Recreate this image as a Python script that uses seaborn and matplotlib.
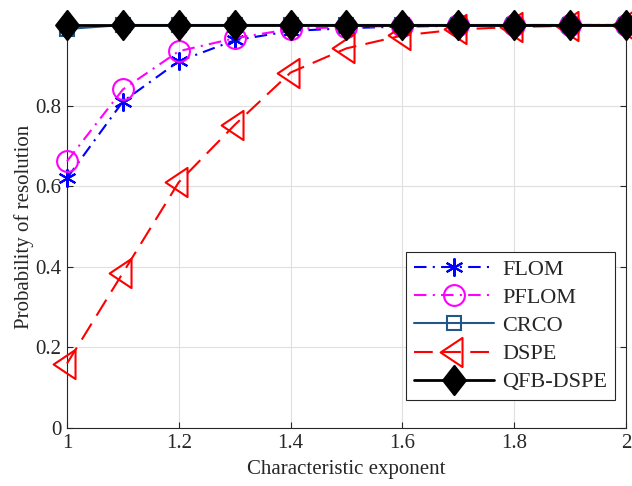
import numpy as np
import pandas as pd
import matplotlib
matplotlib.use("Agg")
import matplotlib.pyplot as plt
from matplotlib.ticker import FuncFormatter
from matplotlib.path import Path
import seaborn as sns

# Characteristic exponent alpha of the alpha-stable noise
alpha = [1.0, 1.1, 1.2, 1.3, 1.4, 1.5, 1.6, 1.7, 1.8, 1.9, 2.0]

# Probability of resolution for each estimator
flom = [0.62, 0.81, 0.91, 0.962, 0.985, 0.992, 0.996, 0.998, 0.999, 1.0, 1.0]
pflom = [0.662, 0.84, 0.935, 0.967, 0.99, 0.995, 0.998, 0.999, 1.0, 1.0, 1.0]
crco = [0.99, 1.0, 1.0, 1.0, 1.0, 1.0, 1.0, 1.0, 1.0, 1.0, 1.0]
dspe = [0.16, 0.385, 0.61, 0.752, 0.882, 0.942, 0.974, 0.989, 0.995, 0.998, 1.0]
qfb_dspe = [1.0, 1.0, 1.0, 1.0, 1.0, 1.0, 1.0, 1.0, 1.0, 1.0, 1.0]

labels = ["FLOM", "PFLOM", "CRCO", "DSPE", "QFB-DSPE"]
x_ticks = [1, 1.2, 1.4, 1.6, 1.8, 2]
y_ticks = [0, 0.2, 0.4, 0.6, 0.8, 1]

sns.set_style("whitegrid")
plt.rcParams["font.family"] = ["Liberation Serif", "DejaVu Serif"]

fig = plt.figure(figsize=(6.32, 4.86), dpi=100)
ax = fig.add_axes([0.106, 0.1193, 0.8845, 0.8293])

# wide diamond and tall left-pointing triangle markers
diamond = Path([(0, 1), (0.78, 0), (0, -1), (-0.78, 0), (0, 1)],
               [Path.MOVETO, Path.LINETO, Path.LINETO, Path.LINETO, Path.CLOSEPOLY])
tri_left = Path([(-0.95, 0), (0.55, 1), (0.55, -1), (-0.95, 0)],
                [Path.MOVETO, Path.LINETO, Path.LINETO, Path.CLOSEPOLY])

series = [
    (flom, "#0000FF", (6, 2, 0), 13, [6, 3, 1, 3], "full"),
    (pflom, "#FF00FF", "o", 15, [6, 3, 1, 3], "none"),
    (crco, "#22578A", "s", 10, None, "none"),
    (dspe, "#FF0000", tri_left, 21, [9, 4.5], "none"),
    (qfb_dspe, "#000000", diamond, 21, None, "full"),
]

handles = []
for (vals, color, marker, ms, dash, fill), lab in zip(series, labels):
    df = pd.DataFrame({"alpha": alpha, "p": vals})
    sns.lineplot(data=df, x="alpha", y="p", ax=ax, color=color, label=lab,
                 legend=False, errorbar=None)
    ln = ax.lines[-1]
    ln.set_marker(marker)
    ln.set_markersize(ms)
    ln.set_fillstyle(fill)
    ln.set_markeredgecolor(color)
    ln.set_markerfacecolor(color if fill == "full" else "none")
    ln.set_markeredgewidth(1.5)
    ln.set_linewidth(2.0 if lab == "QFB-DSPE" else 1.5)
    if dash is not None:
        ln.set_dashes(dash)
    else:
        ln.set_linestyle("-")
    ln.set_clip_on(False)
    ln.set_zorder(3)
    handles.append(ln)

ax.set_xlim(1, 2)
ax.set_ylim(0, 1)
ax.set_xticks(x_ticks)
ax.set_yticks(y_ticks)
ax.xaxis.set_major_formatter(FuncFormatter(lambda v, p: f"{v:g}"))
# the top label sits under the row of markers at y = 1
ax.yaxis.set_major_formatter(FuncFormatter(lambda v, p: "" if v >= 1 else f"{v:g}"))

ax.grid(True, color="#dfdfdf", linewidth=0.8)
ax.set_axisbelow(True)
for s in ax.spines.values():
    s.set_visible(True)
    s.set_color("#262626")
    s.set_linewidth(0.8)
ax.tick_params(axis="both", direction="in", length=4, width=0.8, color="#262626",
               labelsize=15, labelcolor="#262626", top=True, right=True,
               left=True, bottom=True, pad=4)

ax.set_xlabel("Characteristic exponent", fontsize=15, color="#262626", labelpad=5)
ax.set_ylabel("Probability of resolution", fontsize=15, color="#262626", labelpad=1)

leg = ax.legend(handles=handles, labels=labels, loc="lower right",
                bbox_to_anchor=(0.98, 0.069), borderaxespad=0, fontsize=16,
                handlelength=3.6, handletextpad=0.35, labelspacing=0.34,
                borderpad=0.35, fancybox=False, framealpha=1, edgecolor="#262626")
leg.get_frame().set_linewidth(0.8)
leg.set_zorder(5)

fig.savefig("out.png", dpi=100)
